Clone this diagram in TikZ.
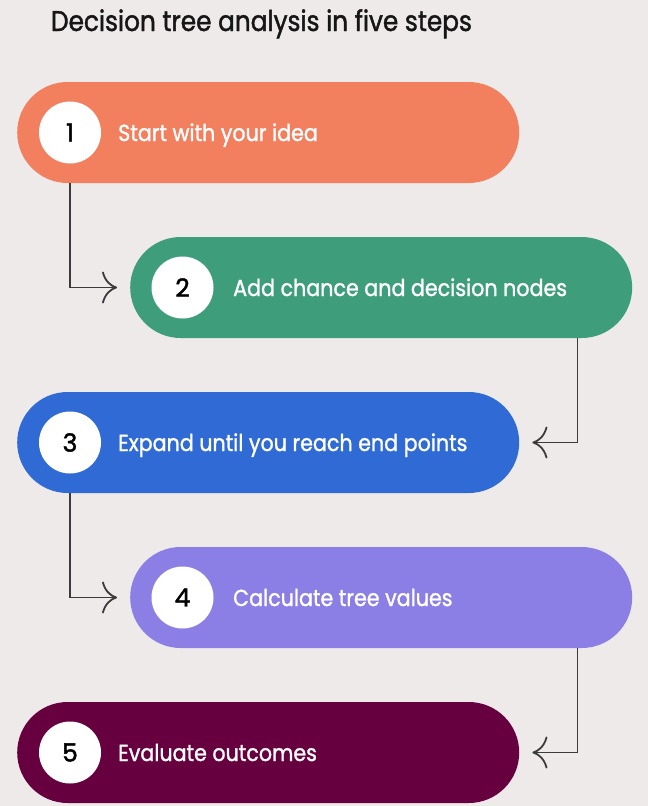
\documentclass[tikz,border=0pt]{standalone}
\usepackage{fontspec}
\setmainfont{Poppins}
\newfontfamily\stepfont[FakeStretch=0.89,FakeBold=1.2]{Poppins}
\newfontfamily\numfont[FakeBold=1.6]{Poppins}
\newfontfamily\titlefont[FakeStretch=0.87,FakeBold=1.4]{Poppins}
\usetikzlibrary{arrows.meta}
\definecolor{bgc}{HTML}{EEEAEA}
\definecolor{c1}{HTML}{F2805F}
\definecolor{c2}{HTML}{3E9E7B}
\definecolor{c3}{HTML}{2F6AD5}
\definecolor{c4}{HTML}{8B7FE5}
\definecolor{c5}{HTML}{67003F}
\definecolor{linec}{HTML}{3C3A3C}
\definecolor{titlec}{HTML}{161616}
\begin{document}
\begin{tikzpicture}[x=1pt,y=-1pt,
  pill/.style={rounded corners=50.5pt, minimum width=502pt, minimum height=101pt, inner sep=0pt, anchor=west},
  num/.style={circle, fill=white, minimum size=62pt, inner sep=0pt, text=black, font=\numfont\fontsize{25}{25}\selectfont},
  lbl/.style={anchor=base west, text=white, inner sep=0pt, font=\stepfont\fontsize{23.2}{26}\selectfont},
  conn/.style={draw=linec, line width=1.7pt, -{Computer Modern Rightarrow[length=15pt,width=32pt,line width=1.8pt]}, shorten >=13pt}]
\fill[bgc] (0,0) rectangle (648,806);
\useasboundingbox (0,0) rectangle (648,806);
\node[anchor=base, inner sep=0pt, text=titlec, font=\titlefont\fontsize{28.5}{32}\selectfont] (title) at (261.5,31) {Decision tree analysis in five steps};
% pills
\node[pill, fill=c1] (p1) at (17,132.5) {};
\node[pill, fill=c2] (p2) at (130,287.5) {};
\node[pill, fill=c3] (p3) at (17,442.5) {};
\node[pill, fill=c4] (p4) at (130,597.5) {};
\node[pill, fill=c5] (p5) at (17,752.5) {};
% numbers
\node[num] (n1) at (70,132.5) {1};
\node[num] (n2) at (182.5,287.5) {2};
\node[num] (n3) at (70,442.5) {3};
\node[num] (n4) at (182.5,597.5) {4};
\node[num] (n5) at (70,752.5) {5};
% labels
\node[lbl] (t1) at (118,141) {Start with your idea};
\node[lbl] (t2) at (233,296) {Add chance and decision nodes};
\node[lbl] (t3) at (118,451) {Expand until you reach end points};
\node[lbl] (t4) at (233,606) {Calculate tree values};
\node[lbl] (t5) at (118,761) {Evaluate outcomes};
% connectors
\draw[conn] (p1.south -| n1) |- (p2.west);
\draw[conn] ([xshift=-55pt]p2.south east) |- (p3.east);
\draw[conn] (p3.south -| n3) |- (p4.west);
\draw[conn] ([xshift=-55pt]p4.south east) |- (p5.east);
\end{tikzpicture}
\end{document}
